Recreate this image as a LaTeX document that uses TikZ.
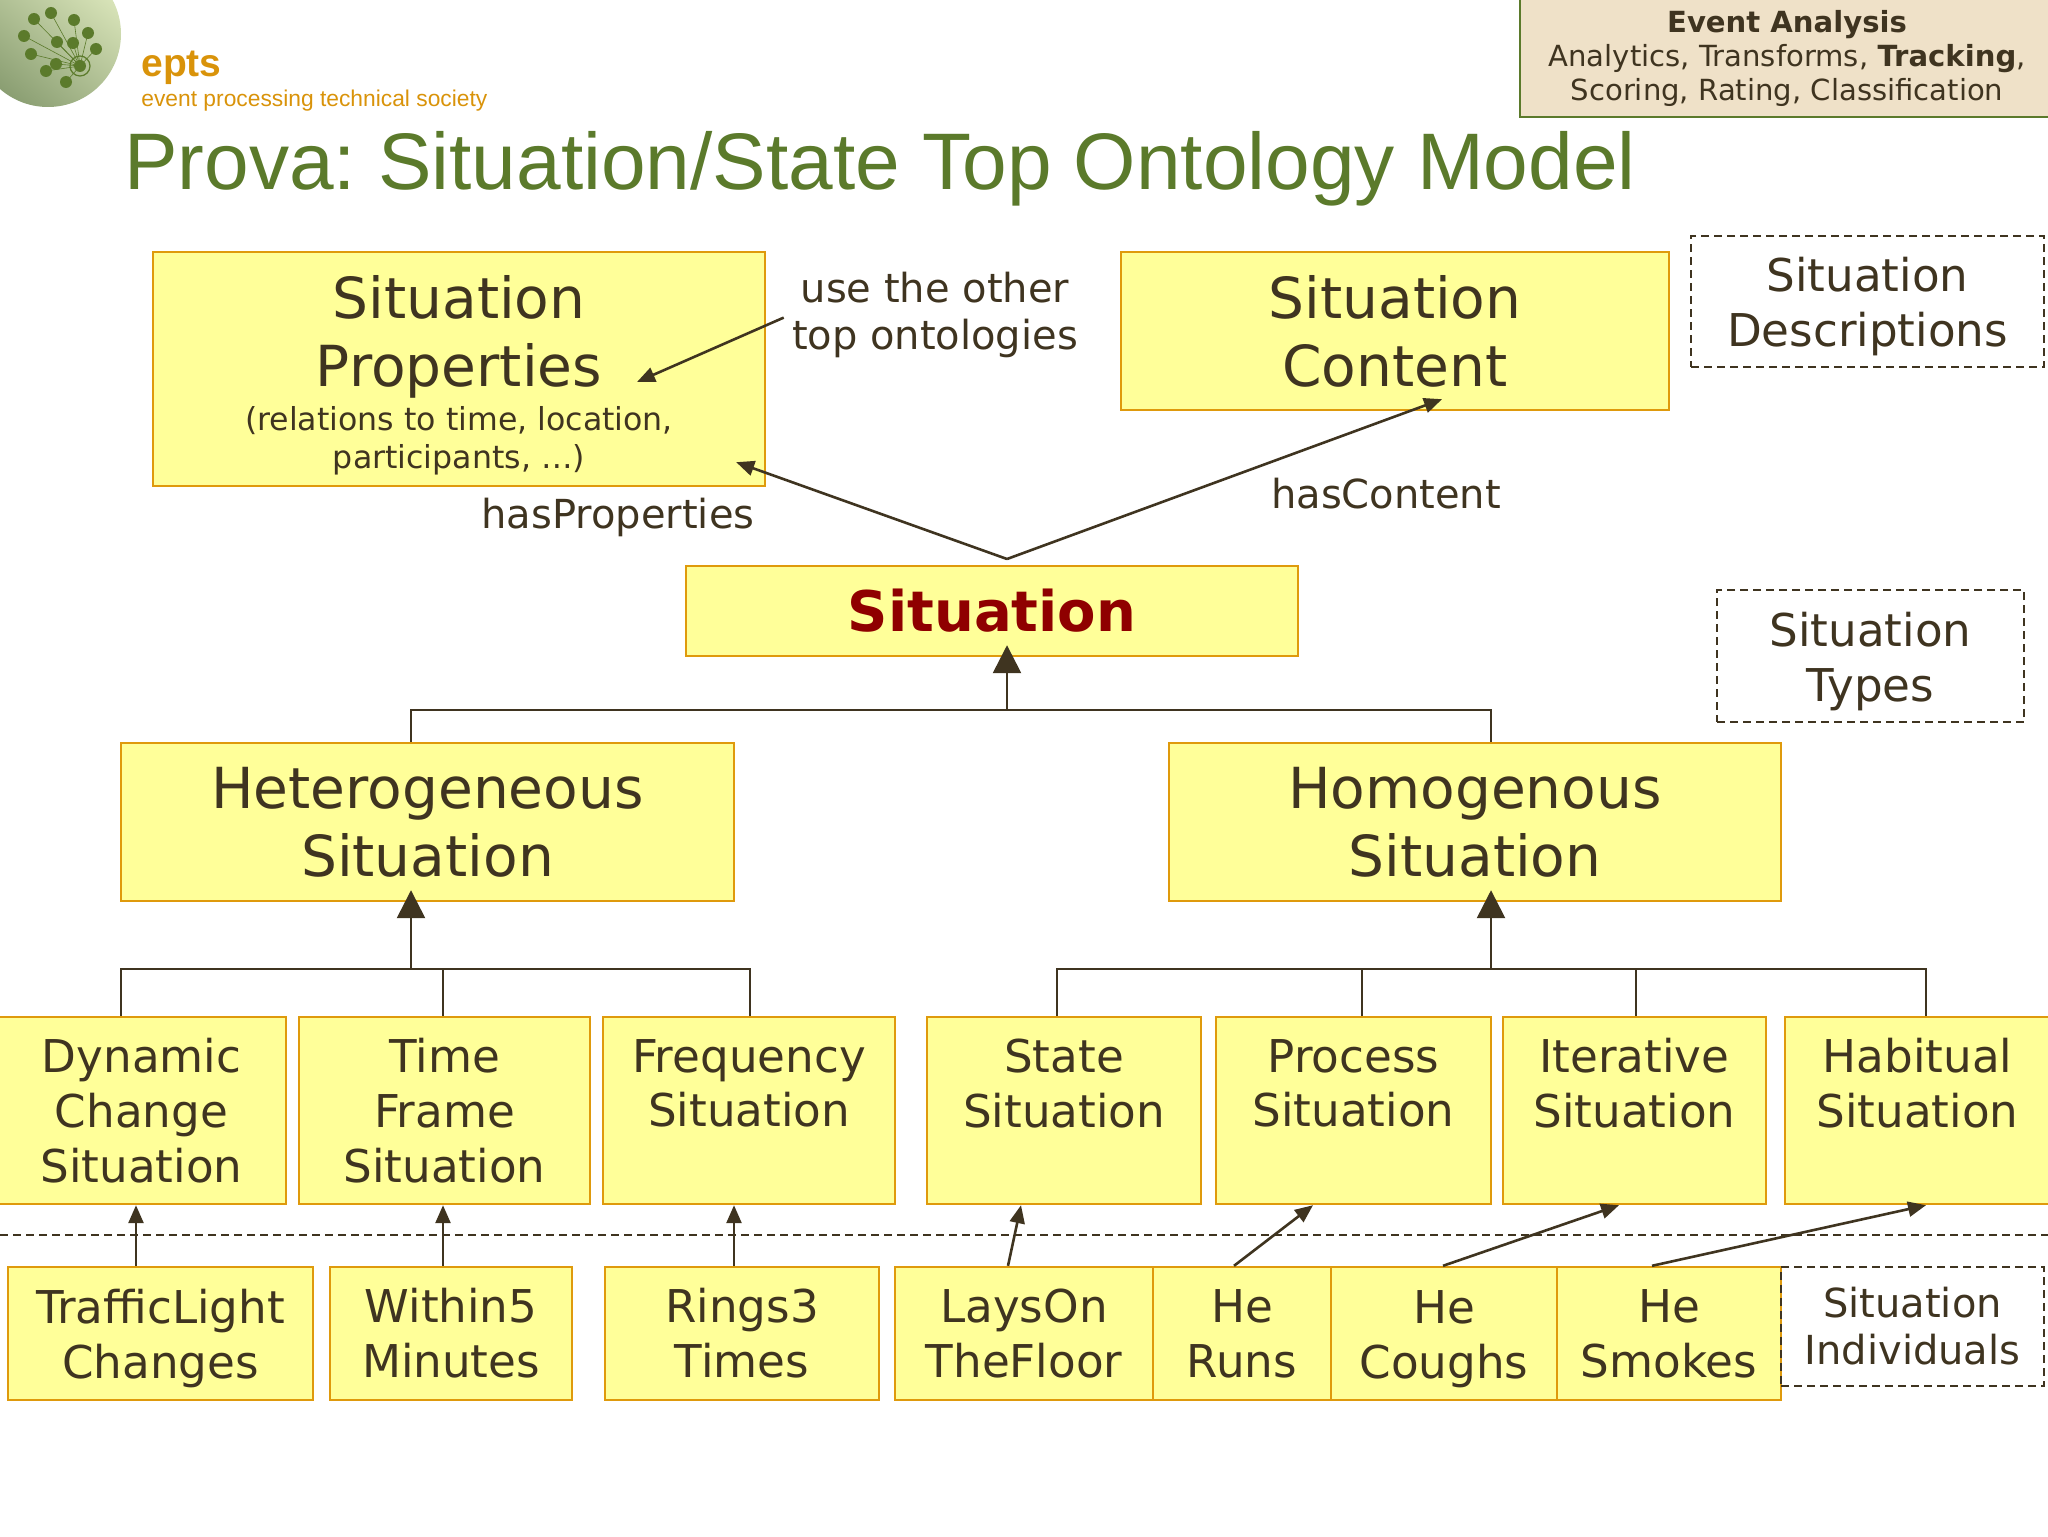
\documentclass[tikz,border=0pt]{standalone}
\usepackage{fontspec}
\setmainfont{DejaVu Sans}
\newfontfamily\arialfont{Liberation Sans}
\usetikzlibrary{arrows.meta}
\definecolor{boxfill}{HTML}{FFFF99}
\definecolor{boxedge}{HTML}{DF9A0C}
\definecolor{ink}{HTML}{3F3420}
\definecolor{titlegreen}{HTML}{5B7A2B}
\definecolor{eptsorange}{HTML}{D9930A}
\definecolor{sandfill}{HTML}{EFE1C8}
\definecolor{sitred}{HTML}{8F0000}
\definecolor{logolight}{HTML}{DBE6BB}
\definecolor{logodark}{HTML}{8A9E72}
% small print inside a box
\newcommand{\smalltxt}{\fontsize{15.8}{19}\selectfont}

\begin{document}
\frenchspacing
\begin{tikzpicture}[
  x=0.5pt,y=-0.5pt,
  every node/.style={inner sep=0pt,text=ink,align=center},
  box/.style={draw=boxedge,fill=boxfill,line width=1.2pt},
  note/.style={draw=ink,dash pattern=on 4pt off 2.5pt,line width=0.8pt},
  big/.style={font=\fontsize{28.3}{34}\selectfont},
  mid/.style={font=\fontsize{22.6}{27.4}\selectfont},
  lab/.style={font=\fontsize{20}{23.5}\selectfont},
  link/.style={draw=ink,line width=1.3pt},
  arr/.style={link,-{Triangle[length=9pt,width=7.5pt]}},
  isa/.style={link,-{Triangle[length=14pt,width=14pt]},shorten >=-6pt},
]
  \clip (0,0) rectangle (2048,1536);
  % ============ logo ============
  \shade[top color=logolight,bottom color=logodark,shading angle=-40] (48,34) circle (73);
  \foreach \px/\py in {34/19,51/13,74/20,88/33,96/49,24/36,57/42,73/43,31/54,56/64,46/71,66/82} {
    \draw[titlegreen,line width=0.3pt] (80,66) -- (\px,\py);
    \fill[titlegreen] (\px,\py) circle (6);
  }
  \fill[titlegreen] (80,66) circle (6);
  \draw[titlegreen,line width=0.6pt] (80,66) circle (10);
  % ============ header ============
  \node[anchor=base west,text=eptsorange,font=\arialfont\fontsize{19.5}{20}\bfseries\selectfont] (eptsName) at (141,76) {epts};
  \node[anchor=base west,text=eptsorange,font=\arialfont\fontsize{11.4}{12}\selectfont] (eptsLong) at (141,106) {event processing technical society};
  \node[anchor=base west,text=titlegreen,font=\arialfont\fontsize{40.1}{42}\selectfont] (title) at (124,189) {Prova: Situation/State Top Ontology Model};
  \node[draw=titlegreen,fill=sandfill,line width=1.2pt,minimum width=267pt,minimum height=59pt,font=\fontsize{14.55}{17}\selectfont] (stage) at (1787,58)
    {\textbf{Event Analysis}\\Analytics, Transforms, \textbf{Tracking},\\Scoring, Rating, Classification};
  % ============ top row ============
  \node[box,big,minimum width=306pt,minimum height=117pt] (prop) at (459,369)
    {\rule{0pt}{28pt}Situation\\Properties\\[-12pt]\smalltxt (relations to time, location,\\[-15pt]\smalltxt participants, …)};
  \node[box,big,minimum width=274pt,minimum height=79pt] (cont) at (1395,331) {Situation\\Content};
  \node[note,mid,minimum width=176.5pt,minimum height=65.5pt] (desc) at (1867.5,301.5) {\rule{0pt}{22.5pt}Situation\\Descriptions};
  \node[lab] (useLab) at (935,315) {use the other\\top ontologies};
  \node[lab] (propLab) at (618,517) {hasProperties};
  \node[lab] (contLab) at (1386,494) {hasContent};
  % ============ situation ============
  \node[box,minimum width=306pt,minimum height=45pt,text=sitred,font=\fontsize{28}{34}\bfseries\selectfont] (sit) at (992,611) {Situation};
  \node[note,mid,minimum width=153.5pt,minimum height=66pt] (typ) at (1870.5,656) {\rule{0pt}{22.5pt}Situation\\Types};
  \node[box,big,minimum width=306.5pt,minimum height=79pt] (het) at (427.5,822) {Heterogeneous\\Situation};
  \node[box,big,minimum width=306pt,minimum height=79pt] (hom) at (1475,822) {Homogenous\\Situation};
  % ============ situation kinds ============
  \node[box,mid,minimum width=144.5pt,minimum height=93.5pt] (dyn) at (141.5,1110.5) {Dynamic\\Change\\Situation};
  \node[box,mid,minimum width=145.5pt,minimum height=93.5pt] (tim) at (444.5,1110.5) {Time\\Frame\\Situation};
  \node[box,mid,minimum width=146pt,minimum height=93.5pt] (fre) at (749,1110.5) {Frequency\\Situation\\~};
  \node[box,mid,minimum width=137pt,minimum height=93.5pt] (sta) at (1064,1110.5) {State\\Situation\\~};
  \node[box,mid,minimum width=137.5pt,minimum height=93.5pt] (pro) at (1353.5,1110.5) {Process\\Situation\\~};
  \node[box,mid,minimum width=131.5pt,minimum height=93.5pt] (ite) at (1634.5,1110.5) {Iterative\\Situation\\~};
  \node[box,mid,minimum width=132.5pt,minimum height=93.5pt] (hab) at (1917.5,1110.5) {Habitual\\Situation\\~};
  % ============ individuals ============
  \draw[note] (0,1235) coordinate (sepL) -- (2048,1235) coordinate (sepR);
  \node[box,mid,minimum width=152.5pt,minimum height=66.5pt] (tra) at (160.5,1333.5) {\rule{0pt}{22.5pt}TrafficLight\\Changes};
  \node[box,mid,minimum width=121pt,minimum height=66.5pt] (wit) at (451,1333.5) {Within5\\Minutes};
  \node[box,mid,minimum width=137pt,minimum height=66.5pt] (rin) at (742,1333.5) {Rings3\\Times};
  \node[box,mid,minimum width=129pt,minimum height=66.5pt] (lay) at (1024,1333.5) {LaysOn\\TheFloor};
  \node[box,mid,minimum width=89pt,minimum height=66.5pt] (run) at (1242,1333.5) {He\\Runs};
  \node[box,mid,minimum width=113pt,minimum height=66.5pt] (cou) at (1444,1333.5) {\rule{0pt}{22pt}He\\Coughs};
  \node[box,mid,minimum width=112pt,minimum height=66.5pt] (smo) at (1669,1333.5) {He\\Smokes};
  \node[note,minimum width=131.5pt,minimum height=59.5pt,lab] (ind) at (1912.5,1326.5) {Situation\\Individuals};
  % ============ trees ============
  \coordinate (busTop) at (1007,710);
  \coordinate (busTopL) at (411,710);
  \coordinate (busTopR) at (1491,710);
  \draw[link] (busTopL |- het.north) -- (busTopL) -- (busTopR) -- (busTopR |- hom.north);
  \draw[isa] (busTop) -- (busTop |- sit.south);
  \coordinate (busHet) at (411,969);
  \coordinate (busHetA) at (121,969);
  \coordinate (busHetB) at (443,969);
  \coordinate (busHetC) at (750,969);
  \draw[link] (busHetA |- dyn.north) -- (busHetA) -- (busHetC) -- (busHetC |- fre.north);
  \draw[link] (busHetB) -- (busHetB |- tim.north);
  \draw[isa] (busHet) -- (busHet |- het.south);
  \coordinate (busHom) at (1491,969);
  \coordinate (busHomA) at (1057,969);
  \coordinate (busHomB) at (1362,969);
  \coordinate (busHomC) at (1636,969);
  \coordinate (busHomD) at (1926,969);
  \draw[link] (busHomA |- sta.north) -- (busHomA) -- (busHomD) -- (busHomD |- hab.north);
  \draw[link] (busHomB) -- (busHomB |- pro.north);
  \draw[link] (busHomC) -- (busHomC |- ite.north);
  \draw[isa] (busHom) -- (busHom |- hom.south);
  % ============ instance arrows ============
  \draw[arr] ([xshift=-12.25pt]tra.north) -- ([xshift=-2.75pt]dyn.south);
  \draw[arr] ([xshift=-4pt]wit.north) -- ([xshift=-0.75pt]tim.south);
  \draw[arr] ([xshift=-4pt]rin.north) -- ([xshift=-7.5pt]fre.south);
  \draw[arr] ([xshift=-8pt]lay.north) -- ([xshift=-21.5pt]sta.south);
  \draw[arr] ([xshift=-4pt]run.north) -- ([xshift=-20.25pt]pro.south);
  \draw[arr] ([xshift=-0.5pt]cou.north) -- ([xshift=-7.75pt]ite.south);
  \draw[arr] ([xshift=-8.5pt]smo.north) -- ([xshift=4.25pt]hab.south);
  % ============ property arrows ============
  \coordinate (apex) at (1007,559);
  \draw[arr] (apex) -- ([xshift=-15pt,yshift=12.5pt]prop.south east);
  \draw[arr] (apex) -- ([xshift=23.5pt,yshift=6pt]cont.south);
  \draw[arr] ([xshift=-4pt,yshift=-1.3pt]useLab.west) -- ([xshift=89pt,yshift=-6.5pt]prop.center);
\end{tikzpicture}
\end{document}
